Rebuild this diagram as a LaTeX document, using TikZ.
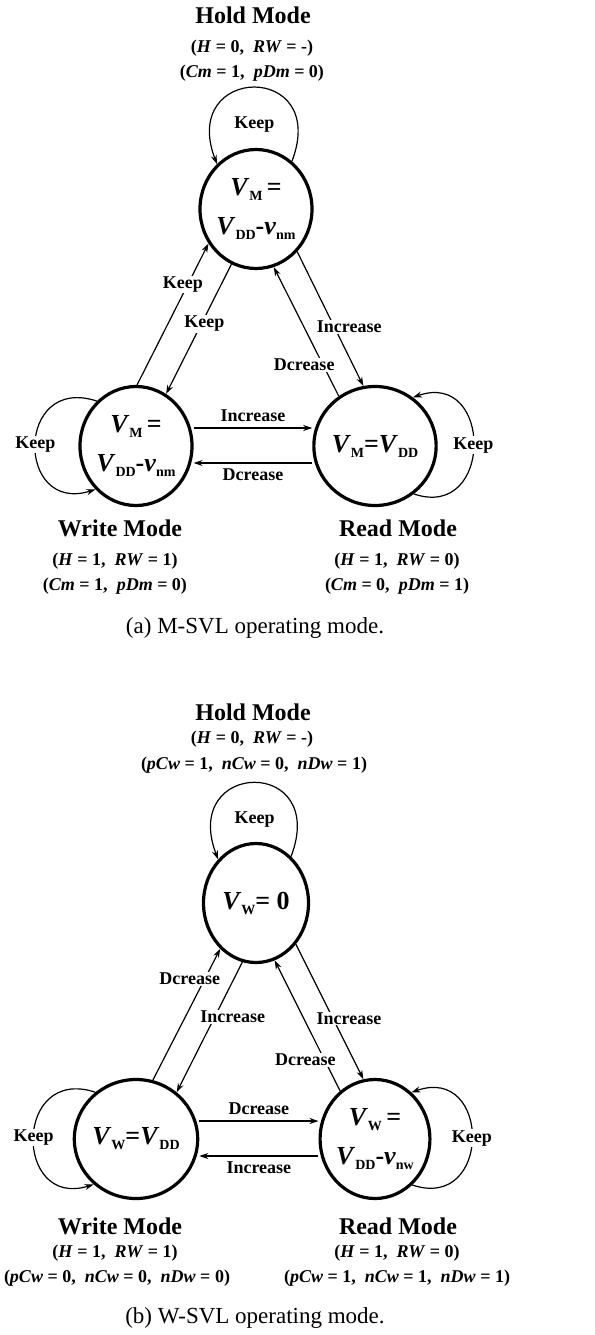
\documentclass[tikz,border=0pt]{standalone}
\usepackage{fontspec}
\setmainfont{Liberation Serif}
\usetikzlibrary{arrows.meta, shapes.geometric}

% lowered subscript and italic variable names
\newcommand{\sbs}[1]{\raisebox{-5pt}{\fontsize{14}{14}\selectfont #1}}
\newcommand{\iv}[1]{\textit{#1}}

\begin{document}
\begin{tikzpicture}[x=1pt, y=-1pt,
  >={Stealth[length=9pt, width=6pt]},
  state/.style={
    ellipse, draw, line width=3.2pt, minimum width=105pt, minimum height=119pt,
    inner sep=0pt, align=center, font=\fontsize{26}{39}\selectfont\bfseries
  },
  mode/.style={font=\fontsize{24}{26}\selectfont\bfseries},
  cond/.style={font=\fontsize{18}{20}\selectfont\bfseries},
  lbl/.style={fill=white, inner sep=1pt, font=\fontsize{18}{20}\selectfont\bfseries},
  arr/.style={->, line width=1.2pt},
  captext/.style={font=\fontsize{23}{25}\selectfont},
]

% Background
\fill[white] (0,0) rectangle (594,1335);
\useasboundingbox (0,0) rectangle (594,1335);

% =============================================
% (a) M-SVL
% =============================================
\node[mode] (a-hold-name) at (253,15) {Hold Mode};
\node[cond] (a-hold-c1) at (252,48) {(\iv{H} = 0,~~\iv{RW} = -)};
\node[cond] (a-hold-c2) at (252,73) {(\iv{Cm} = 1,~~\iv{pDm} = 0)};

% States
\node[state] (a-hold) at (256,209)
  {\iv{V}\sbs{M}\,=\\\iv{V}\sbs{DD}-\iv{v}\sbs{nm}};
\node[state] (a-write) at (136,446)
  {\iv{V}\sbs{M}\,=\\\iv{V}\sbs{DD}-\iv{v}\sbs{nm}};
\node[state] (a-read) at (375,446)
  {\iv{V}\sbs{M}=\iv{V}\sbs{DD}};

% Self loops
\draw[arr] (a-hold.53) .. controls +(38,-100) and +(-38,-100) .. (a-hold.131)
  node[lbl, pos=0.5, yshift=-37pt] {Keep};
\draw[arr] (a-write.131) .. controls +(-82,-27) and +(-80,25) .. (a-write.227)
  node[lbl, pos=0.5] {Keep};
\draw[arr] (a-read.309) .. controls +(80,27) and +(80,-28) .. (a-read.52)
  node[lbl, pos=0.5] {Keep};

% Transitions
\draw[arr] (a-write.89) -- (a-hold.216) node[lbl, pos=0.71, xshift=-5pt] {Keep};
\draw[arr] (a-hold.246) -- (a-write.60) node[lbl, pos=0.46, xshift=3pt] {Keep};
\draw[arr] (a-read.126) -- (a-hold.287) node[lbl, pos=0.24, xshift=-19pt] {Dcrease};
\draw[arr] (a-hold.314) -- (a-read.101) node[lbl, pos=0.56, xshift=15pt] {Increase};
\draw[arr] ([yshift=18pt]a-write.east) -- ([yshift=18pt]a-read.west)
  node[lbl, midway, yshift=12pt] {Increase};
\draw[arr] ([yshift=-17pt]a-read.west) -- ([yshift=-17pt]a-write.east)
  node[lbl, midway, yshift=-12pt] {Dcrease};

% Mode names
\node[mode] (a-write-name) at (120,528) {Write Mode};
\node[cond] (a-write-c1) at (115,561) {(\iv{H} = 1,~~\iv{RW} = 1)};
\node[cond] (a-write-c2) at (115,586) {(\iv{Cm} = 1,~~\iv{pDm} = 0)};
\node[mode] (a-read-name) at (398,528) {Read Mode};
\node[cond] (a-read-c1) at (397,561) {(\iv{H} = 1,~~\iv{RW} = 0)};
\node[cond] (a-read-c2) at (397,586) {(\iv{Cm} = 0,~~\iv{pDm} = 1)};

\node[captext] (a-cap) at (255,628) {(a) M-SVL operating mode.};

% =============================================
% (b) W-SVL
% =============================================
\node[mode] (b-hold-name) at (253,712) {Hold Mode};
\node[cond] (b-hold-c1) at (252,739) {(\iv{H} = 0,~~\iv{RW} = -)};
\node[cond] (b-hold-c2) at (254,765) {(\iv{pCw} = 1,~~\iv{nCw} = 0,~~\iv{nDw} = 1)};

% States
\node[state] (b-hold) at (256,903) {\iv{V}\sbs{W}= 0};
\node[state] (b-write) at (136,1139) {\iv{V}\sbs{W}=\iv{V}\sbs{DD}};
\node[state] (b-read) at (375,1139)
  {\iv{V}\sbs{W}\,=\\\iv{V}\sbs{DD}-\iv{v}\sbs{nw}};

% Self loops
\draw[arr] (b-hold.53) .. controls +(38,-100) and +(-38,-100) .. (b-hold.131)
  node[lbl, pos=0.5, yshift=-37pt] {Keep};
\draw[arr] (b-write.131) .. controls +(-82,-27) and +(-80,25) .. (b-write.227)
  node[lbl, pos=0.5] {Keep};
\draw[arr] (b-read.309) .. controls +(80,27) and +(80,-28) .. (b-read.52)
  node[lbl, pos=0.5] {Keep};

% Transitions
\draw[arr] (b-write.74) -- (b-hold.232) node[lbl, pos=0.77, xshift=-15pt] {Dcrease};
\draw[arr] (b-hold.257) -- (b-write.49) node[lbl, pos=0.42, xshift=18pt] {Increase};
\draw[arr] (b-read.126) -- (b-hold.288) node[lbl, pos=0.24, xshift=-19pt] {Dcrease};
\draw[arr] (b-hold.314) -- (b-read.101) node[lbl, pos=0.55, xshift=16pt] {Increase};
\draw[arr] ([yshift=18pt]b-write.east) -- ([yshift=18pt]b-read.west)
  node[lbl, midway, yshift=12pt] {Dcrease};
\draw[arr] ([yshift=-17pt]b-read.west) -- ([yshift=-17pt]b-write.east)
  node[lbl, midway, yshift=-12pt] {Increase};

% Mode names
\node[mode] (b-write-name) at (120,1226) {Write Mode};
\node[cond] (b-write-c1) at (115,1253) {(\iv{H} = 1,~~\iv{RW} = 1)};
\node[cond] (b-write-c2) at (117,1278) {(\iv{pCw} = 0,~~\iv{nCw} = 0,~~\iv{nDw} = 0)};
\node[mode] (b-read-name) at (398,1226) {Read Mode};
\node[cond] (b-read-c1) at (397,1253) {(\iv{H} = 1,~~\iv{RW} = 0)};
\node[cond] (b-read-c2) at (397,1278) {(\iv{pCw} = 1,~~\iv{nCw} = 1,~~\iv{nDw} = 1)};

\node[captext] (b-cap) at (255,1318) {(b) W-SVL operating mode.};

\end{tikzpicture}
\end{document}
